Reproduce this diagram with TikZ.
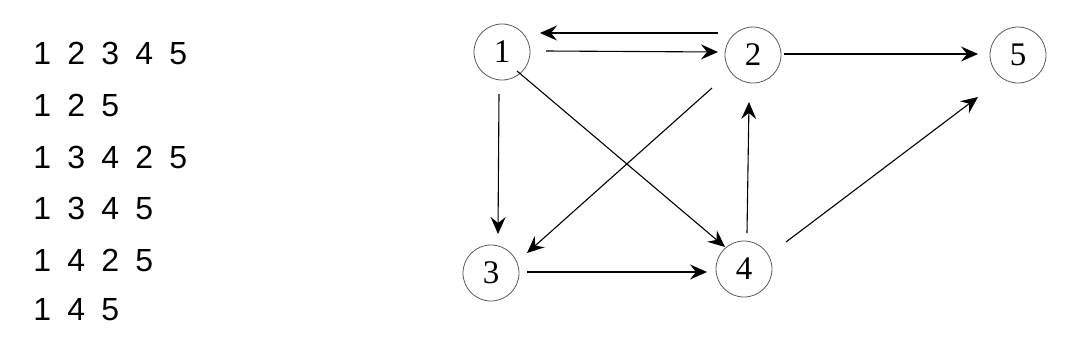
\documentclass[tikz,border=0pt]{standalone}
\usepackage{fontspec}
\newfontfamily\seqfont{Liberation Sans}
\newfontfamily\numfont{Liberation Serif}
\usetikzlibrary{arrows.meta}
\newcommand\dg[1]{\makebox[34bp]{#1}}
\begin{document}
\begin{tikzpicture}[x=1bp,y=-1bp,
  vert/.style={circle,draw=black!65,line width=0.8bp,minimum size=56bp,inner sep=0pt,font=\numfont\fontsize{33bp}{40bp}\selectfont},
  seq/.style={anchor=west,inner sep=0pt,font=\seqfont\fontsize{32bp}{38bp}\selectfont},
  arr/.style={line width=1.1bp,-{Stealth[length=17bp,width=15bp,inset=6bp]}}]
\useasboundingbox (0,0) rectangle (1092,362);
% path list
\node[seq] (r1) at (25,53) {\dg{1}\dg{2}\dg{3}\dg{4}\dg{5}};
\node[seq] (r2) at (25,105) {\dg{1}\dg{2}\dg{5}};
\node[seq] (r3) at (25,157) {\dg{1}\dg{3}\dg{4}\dg{2}\dg{5}};
\node[seq] (r4) at (25,208) {\dg{1}\dg{3}\dg{4}\dg{5}};
\node[seq] (r5) at (25,260) {\dg{1}\dg{4}\dg{2}\dg{5}};
\node[seq] (r6) at (25,310) {\dg{1}\dg{4}\dg{5}};
% vertices
\node[vert] (n1) at (502,52) {1};
\node[vert] (n2) at (753,55) {2};
\node[vert] (n5) at (1018,55) {5};
\node[vert] (n3) at (491,273) {3};
\node[vert] (n4) at (744,269) {4};
% edge endpoints
\coordinate (e21s) at (718,33);  \coordinate (e21t) at (540,33);
\coordinate (e12s) at (546,51);  \coordinate (e12t) at (718,52);
\coordinate (e25s) at (784,54);  \coordinate (e25t) at (978,54);
\coordinate (e13s) at (499,94);  \coordinate (e13t) at (498,234);
\coordinate (e14s) at (517,71);  \coordinate (e14t) at (725,247);
\coordinate (e23s) at (712,88);  \coordinate (e23t) at (527,253);
\coordinate (e42s) at (747,233); \coordinate (e42t) at (749,102);
\coordinate (e34s) at (527,272); \coordinate (e34t) at (707,272);
\coordinate (e45s) at (786,242); \coordinate (e45t) at (978,97);
\draw[arr] (e21s) -- (e21t);
\draw[arr] (e12s) -- (e12t);
\draw[arr] (e25s) -- (e25t);
\draw[arr] (e13s) -- (e13t);
\draw[arr] (e14s) -- (e14t);
\draw[arr] (e23s) -- (e23t);
\draw[arr] (e42s) -- (e42t);
\draw[arr] (e34s) -- (e34t);
\draw[arr] (e45s) -- (e45t);
\end{tikzpicture}
\end{document}
